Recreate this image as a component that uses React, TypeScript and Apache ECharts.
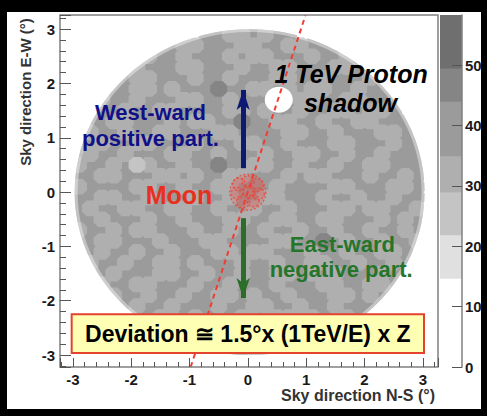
import React, { useEffect, useRef } from 'react';
import * as echarts from 'echarts';

// ---- axes ----
const xRange = [-3.22, 3.26];
const yRange = [-3.22, 3.26];
const colorbarMax = 58.3;

// ---- sky map (0.2 deg cells, row 0 = top, column 0 = left) ----
const cellSize = 0.2;
const firstCellX = -2.9;
const firstCellY = 2.9;
const levelValues: Record<string, number> = { w: 8, l: 25, a: 32, b: 40, c: 46 };
const skyRows = [
  '..... ..... .bbaa babb. ..... .....',
  '..... ...ba abbba abbaa bb... .....',
  '..... .abba bbbab aabbb abba. .....',
  '..... abbba abbba bbaab bbaab .....',
  '....b aabbb abbab bbaab babbb a....',
  '...bb aabab bbcbb aabab aabba bb...',
  '..abb abbba abbab bbbba abbaa bbb..',
  '..bba bbaab bbbaa babba bbaab aab..',
  '.bbaa bbbab aabbc bbaab babba abbb.',
  '.abba bbaab bbaab bbbaa bbabb baab.',
  'bbabb aabbb abbba abbab bbaab bbabb',
  'babba bbbaa bbabb babba abbab babbb',
  'abbab labba bbcbb aabba bbabb aabbb',
  'bbaab bbaab abbaa bbbab aabbb abbab',
  'abbbb aabba bbaab bbabb bbaab bbaab',
  'bbaab babbb abbab baabb babba bbabb',
  'babba abbaa bbabb abbab bbaab aabba',
  'bbabb babba bbbaa bbaab baabb babab',
  'abbab aabbb abbab babba bbabb abbab',
  'bbaab bbabb baabb bbaab bcbab babba',
  '.babb abbab bbaab aabbb abbab baab.',
  '.abba bbaab abbba bbabb aabba bbab.',
  '..bab bbaab babba bbaab ababb bab..',
  '..abb aabbb abbab bbabb baabb aab..',
  '...ab babba bbaab abbab bbaab ab...',
  '....b abbab bbabb aabba bbabb b....',
  '..... bbaab abbba bbaab abbab .....',
  '..... .abab bbaab babba abba. .....',
  '..... ...bb abbab abbba ab... .....',
  '..... ..... .babb aabb. ..... .....',
];
const discCenter = [0.03, 0];
const discRadius = 3.0;
// proton shadow deficit (white spot)
const shadowCenter = [0.53, 1.7];
const shadowRadius = 0.24;
const shadowValue = 8;

// ---- colour scale ----
const bandEdges = [0, 14.7, 21.9, 29, 35, 44, 49.5, 58.3];
const bandColors = ['#ffffff', '#e0e0e0', '#c4c4c4', '#afafaf', '#9b9b9b', '#858585', '#6f6f6f'];

// ---- overlays ----
const protonLineX = [-0.98, 0.99];
const protonLineY = [-3.22, 3.26];
const moonX = [0, -0.15, 0.0, 0.15, -0.18, 0.02, 0.18, -0.08, 0.09];
const moonY = [0, 0.14, 0.19, 0.13, -0.02, 0.0, -0.03, -0.17, -0.16];
const moonSize = [36, 13, 12, 13, 12, 12, 12, 13, 12];
const westArrow = { x: -0.08, from: 0.44, to: 1.88 };
const eastArrow = { x: -0.08, from: -0.48, to: -1.95 };
const labelTexts = ['West-ward', 'positive part.', 'Moon', '1 TeV Proton', 'shadow', 'East-ward', 'negative part.'];
const labelX = [-1.67, -1.67, -1.18, 1.77, 1.76, 1.62, 1.6];
const labelY = [1.46, 0.98, -0.05, 2.18, 1.64, -0.97, -1.42];
const boxCorners = [[-3.02, -2.25], [3.02, -2.96]];
const boxText = 'Deviation \u2245 1.5°x (1TeV/E) x Z';

const FONT = 'Liberation Sans, Arial, Helvetica, sans-serif';
const labelStyles = [
  { color: '#101088', size: 22, italic: false },
  { color: '#101088', size: 22, italic: false },
  { color: '#e83020', size: 25, italic: false },
  { color: '#000000', size: 25, italic: true },
  { color: '#000000', size: 25, italic: true },
  { color: '#25752a', size: 22, italic: false },
  { color: '#25752a', size: 22, italic: false },
];
// drawing order of the levels (base first, then patches on top)
const drawOrder = ['b', 'a', 'c', 'l', 'w'];

export default function App() {
  const ref = useRef<HTMLDivElement>(null);
  useEffect(() => {
    const chart = echarts.init(ref.current!, null, { renderer: 'svg' });

    const cellsByLevel: Record<string, number[][]> = {};
    skyRows.forEach((row, i) => {
      const codes = row.replace(/ /g, '');
      for (let j = 0; j < codes.length; j++) {
        const ch = codes[j];
        if (ch === '.') continue;
        (cellsByLevel[ch] = cellsByLevel[ch] || []).push([firstCellX + j * cellSize, firstCellY - i * cellSize, levelValues[ch]]);
      }
    });
    const cells: number[][] = [];
    drawOrder.forEach((k) => (cellsByLevel[k] || []).forEach((c) => cells.push(c)));

    const bands = bandColors.map((_, i) => [bandEdges[i], bandEdges[i + 1], i]);
    const pieces = bandColors.map((c, i) => ({ gte: bandEdges[i], lt: bandEdges[i + 1], color: c }));

    const axisLabel = { fontSize: 15, fontWeight: 'bold', color: '#1a1a1a', fontFamily: FONT };

    const option: any = {
      animation: false,
      backgroundColor: '#000000',
      grid: [
        { left: 60, right: 49, top: 15, bottom: 49, show: true, z: 10, backgroundColor: 'transparent', borderColor: '#808080', borderWidth: 1.5 },
        { left: 440, width: 22, top: 15, bottom: 49, show: false, z: 10 },
      ],
      xAxis: [
        {
          gridIndex: 0, type: 'value', min: xRange[0], max: xRange[1], z: 10, position: 'bottom',
          axisLine: { show: false, onZero: false },
          axisTick: { show: true, inside: true, length: 9, lineStyle: { color: '#555' } },
          minorTick: { show: true, splitNumber: 5, length: 5, lineStyle: { color: '#555' } },
          axisLabel: { ...axisLabel, margin: 5, showMinLabel: false, showMaxLabel: false },
          splitLine: { show: false },
        },
        { gridIndex: 1, type: 'value', min: 0, max: 1, show: false },
      ],
      yAxis: [
        {
          gridIndex: 0, type: 'value', min: yRange[0], max: yRange[1], z: 10, position: 'left',
          axisLine: { show: false, onZero: false },
          axisTick: { show: true, inside: true, length: 11, lineStyle: { color: '#555' } },
          minorTick: { show: true, splitNumber: 5, length: 6, lineStyle: { color: '#555' } },
          axisLabel: { ...axisLabel, margin: 5, showMinLabel: false, showMaxLabel: false },
          splitLine: { show: false },
        },
        {
          gridIndex: 1, type: 'value', min: 0, max: colorbarMax, position: 'right', z: 10,
          axisLine: { show: true, onZero: false, lineStyle: { color: '#808080', width: 1.5 } },
          axisTick: { show: true, inside: true, length: 10, lineStyle: { color: '#555' } },
          axisLabel: { ...axisLabel, margin: 3, showMaxLabel: false },
          splitLine: { show: false },
        },
      ],
      visualMap: {
        show: false, type: 'piecewise', seriesIndex: 0, dimension: 2, pieces,
      },
      graphic: [
        { type: 'rect', z: -10, silent: true, shape: { x: 7, y: 12, width: 474, height: 397 }, style: { fill: '#ffffff' } },
        {
          type: 'text', z: 20, silent: true, x: 435, y: 395,
          style: { text: 'Sky direction N-S (°)', fontSize: 16, fontWeight: 'bold', fontFamily: FONT, fill: '#333', align: 'right', verticalAlign: 'middle', textAlign: 'right', textVerticalAlign: 'middle' },
        },
        {
          type: 'text', z: 20, silent: true, x: 25, y: 92, rotation: Math.PI / 2,
          style: { text: 'Sky direction E-W (°)', fontSize: 15, fontWeight: 'bold', fontFamily: FONT, fill: '#333', align: 'center', verticalAlign: 'middle', textAlign: 'center', textVerticalAlign: 'middle' },
        },
      ],
      series: [
        {
          type: 'custom', xAxisIndex: 0, yAxisIndex: 0, z: 1, silent: true, data: cells,
          encode: { x: 0, y: 1 },
          renderItem: (params: any, api: any) => {
            const x = api.value(0), y = api.value(1);
            const c = api.coord([x, y]);
            const s = api.size([cellSize, cellSize]);
            const h = 0.72, k = 0.32;
            const pts = [
              [h, k], [k, h], [-k, h], [-h, k], [-h, -k], [-k, -h], [k, -h], [h, -k],
            ].map((p) => [c[0] + p[0] * s[0], c[1] + p[1] * s[1]]);
            return {
              type: 'polygon',
              shape: { points: pts },
              style: { fill: api.visual('color') },
            };
          },
        },
        {
          type: 'custom', xAxisIndex: 0, yAxisIndex: 0, z: 2, silent: true,
          data: [[shadowCenter[0], shadowCenter[1], shadowValue]],
          renderItem: (params: any, api: any) => {
            const c = api.coord([api.value(0), api.value(1)]);
            const s = api.size([shadowRadius, shadowRadius]);
            const v = api.value(2);
            const idx = bandEdges.findIndex((e, i) => v >= e && v < bandEdges[i + 1]);
            return { type: 'ellipse', shape: { cx: c[0], cy: c[1], rx: s[0], ry: s[1] }, style: { fill: bandColors[idx] } };
          },
        },
        {
          type: 'custom', xAxisIndex: 0, yAxisIndex: 0, z: 3, silent: true, clip: true,
          data: [[discCenter[0], discCenter[1]]],
          renderItem: (params: any, api: any) => {
            const c = api.coord([api.value(0), api.value(1)]);
            const s = api.size([discRadius, discRadius]);
            return {
              type: 'group',
              children: [
                { type: 'ring', x: c[0], y: c[1], scaleY: s[1] / s[0], shape: { cx: 0, cy: 0, r0: s[0], r: s[0] * 3 }, style: { fill: '#ffffff' } },
                { type: 'ring', x: c[0], y: c[1], scaleY: s[1] / s[0], shape: { cx: 0, cy: 0, r0: s[0] - 3, r: s[0] }, style: { fill: 'rgba(255,255,255,0.4)' } },
              ],
            };
          },
        },
        {
          type: 'line', xAxisIndex: 0, yAxisIndex: 0, z: 4, silent: true, symbol: 'none',
          data: protonLineX.map((x, i) => [x, protonLineY[i]]),
          lineStyle: { color: '#f03c32', width: 2, type: [5, 4] },
          markLine: {
            z: 6, silent: true, symbol: ['none', 'arrow'], symbolSize: [10, 20],
            label: { show: false },
            lineStyle: { type: 'solid', width: 5 },
            data: [
              [{ coord: [westArrow.x, westArrow.from], lineStyle: { color: '#0d1a73', type: 'solid', width: 5 } }, { coord: [westArrow.x, westArrow.to] }],
              [{ coord: [eastArrow.x, eastArrow.from], lineStyle: { color: '#2a6e2a', type: 'solid', width: 5 } }, { coord: [eastArrow.x, eastArrow.to] }],
            ],
          },
        },
        {
          type: 'scatter', xAxisIndex: 0, yAxisIndex: 0, z: 5, silent: true, symbol: 'circle',
          data: moonX.map((x, i) => ({ value: [x, moonY[i]], symbolSize: moonSize[i] })),
          itemStyle: { color: 'rgba(240,70,60,0.22)', borderColor: '#ee4433', borderWidth: 1.3, borderType: [2, 2] },
        },
        {
          type: 'scatter', xAxisIndex: 0, yAxisIndex: 0, z: 7, silent: true, symbolSize: 0,
          itemStyle: { color: '#000', opacity: 1 },
          data: labelTexts.map((t, i) => ({
            value: [labelX[i], labelY[i]],
            label: {
              show: true, position: 'inside', formatter: t, opacity: 1,
              color: labelStyles[i].color, fontSize: labelStyles[i].size, fontWeight: 'bold',
              fontStyle: labelStyles[i].italic ? 'italic' : 'normal', fontFamily: FONT,
              textBorderWidth: 0, textBorderColor: 'transparent',
            },
          })),
          markArea: {
            z: 8, silent: true,
            itemStyle: { color: '#ffffb4', borderColor: '#e4412f', borderWidth: 2, opacity: 1 },
            label: { show: true, position: 'inside', formatter: boxText, color: '#000', fontSize: 23, fontWeight: 'bold', fontFamily: FONT },
            data: [[{ coord: boxCorners[0] }, { coord: boxCorners[1] }]],
          },
        },
        {
          type: 'custom', xAxisIndex: 1, yAxisIndex: 1, z: 2, silent: true, data: bands,
          renderItem: (params: any, api: any) => {
            const lo = api.value(0), hi = api.value(1), idx = api.value(2);
            const p0 = api.coord([0, lo]);
            const p1 = api.coord([1, hi]);
            return {
              type: 'rect',
              shape: { x: p0[0], y: p1[1], width: p1[0] - p0[0], height: p0[1] - p1[1] + 0.5 },
              style: { fill: bandColors[idx] },
            };
          },
        },
      ],
    };

    chart.setOption(option);
    return () => chart.dispose();
  }, []);

  return <div ref={ref} style={{ position: 'absolute', left: 0, top: 0, width: 487, height: 416 }} />;
}
